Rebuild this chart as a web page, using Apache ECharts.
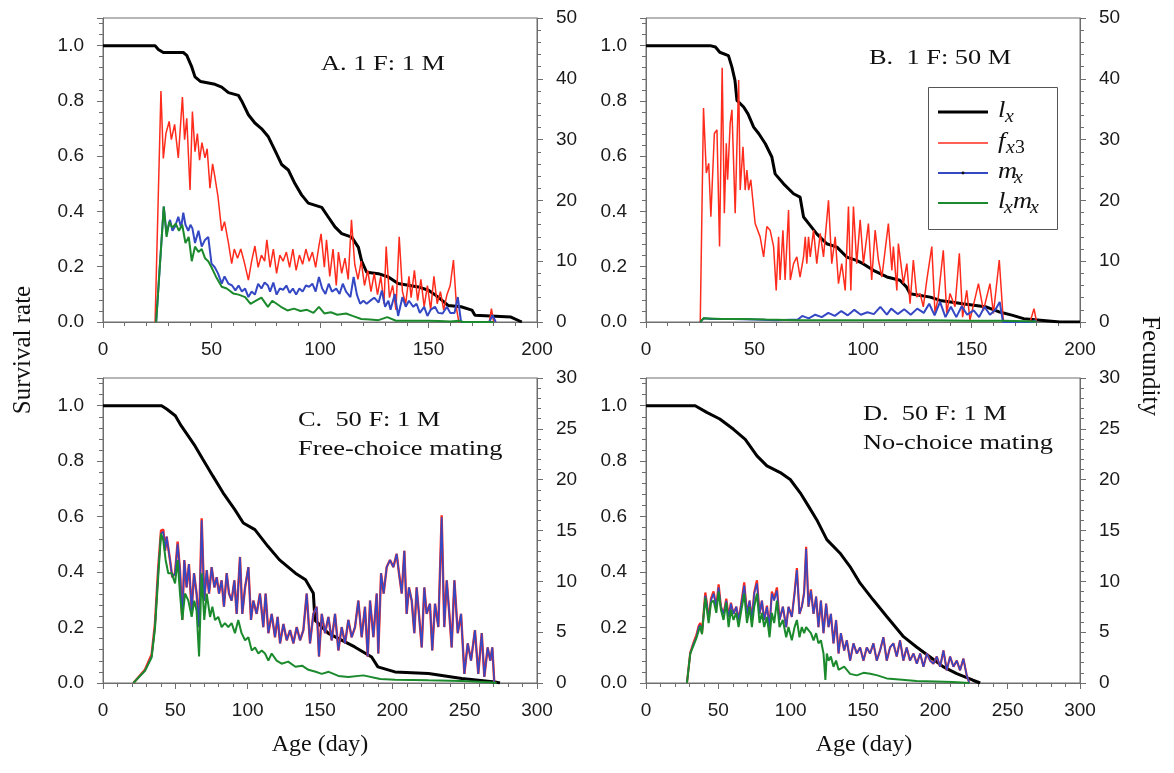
<!DOCTYPE html>
<html><head><meta charset="utf-8">
<script src="https://cdn.jsdelivr.net/npm/echarts@6/dist/echarts.min.js"></script>
<style>html,body{margin:0;padding:0;background:#fff}#c{width:1174px;height:773px}</style>
</head><body><div id="c"></div>
<script>
// ---------- tick labels / axis ranges ----------
const X_TICKS_AB = [0, 50, 100, 150, 200];
const X_TICKS_CD = [0, 50, 100, 150, 200, 250, 300];
const SURV_TICKS = [0, 0.2, 0.4, 0.6, 0.8, 1.0];
const SURV_MAX = 1.1;
const FEC_TICKS_AB = [0, 10, 20, 30, 40, 50];
const FEC_TICKS_CD = [0, 5, 10, 15, 20, 25, 30];
const PANEL_TITLES = [["A. 1 F: 1 M"], ["B.  1 F: 50 M"], ["C.  50 F: 1 M", "Free-choice mating"], ["D.  50 F: 1 M", "No-choice mating"]];

// ---------- Panel A: 1 F : 1 M  ([age (day), value]) ----------
const A_lx = [[0,1],[24,1],[25.5,0.986],[27.8,0.975],[37,0.975],[38.6,0.965],[40.9,0.923],[42.4,0.887],[45,0.87],[51.6,0.86],[54.7,0.85],[57.8,0.83],[62.4,0.82],[63.9,0.8],[67,0.75],[70,0.72],[73,0.7],[76.2,0.67],[79.3,0.62],[82.3,0.57],[85.4,0.55],[88.5,0.5],[91.5,0.46],[94.6,0.43],[100.8,0.415],[103.8,0.38],[106.9,0.344],[110,0.32],[114.6,0.307],[117.7,0.27],[119.2,0.22],[121.5,0.18],[126.9,0.175],[131.5,0.163],[136,0.139],[145.3,0.127],[150,0.115],[154.5,0.09],[159,0.06],[165,0.055],[170,0.043],[171.4,0.024],[188,0.018],[193,0]];
const A_fx3 = [[24,0],[26.7,38],[27.8,26.9],[29,31],[30.5,33],[31.5,30],[33,32.5],[34.7,27],[36.6,37],[37.6,30],[38.6,33.5],[40.1,21.7],[41.2,34.6],[42.4,28],[43.5,31],[44.5,26.6],[45.6,29.5],[47,27],[48,28.5],[49.3,22],[50.5,26],[51.5,24],[53,20.6],[54.7,15],[56,16.5],[57.8,13],[59.3,9.6],[60.5,12],[62,10.5],[63.5,12],[65,10],[67,6.9],[68.5,10],[70,12.5],[71.5,9],[73,11],[74.5,10],[75.5,13.5],[77,9],[78.5,12],[80,8],[81.5,11],[83,10],[84.5,11.5],[86,9],[87.5,12],[89,8.5],[90.5,11],[92,9.5],[93.5,12],[95,10],[96.5,11.5],[98,9],[99.5,12.5],[100.5,14.5],[102,9],[103,13.5],[104.5,7.5],[106,12],[107.5,6],[108.5,11.5],[110,8],[111.5,10.5],[113,7],[114.5,16.8],[116,9.5],[117.5,7],[119,10],[120.5,6],[122,8.5],[123.5,5],[125,8],[126.5,4.5],[128,7.5],[129.5,3],[130.5,12.4],[132,4],[133.5,6],[135,2],[136.5,14],[138,5],[139.5,3],[141,7.5],[142,4],[143.5,8.5],[145,3.5],[146.5,7],[148,2.5],[149.5,6],[151,2],[152.5,7.5],[154,3],[155.5,5],[157,2],[158.5,4.5],[160,6],[161.5,10.2],[163,2],[164,0],[178,0],[179,2.2],[180,0]];
const A_mx = [[24.5,0],[28,19],[29.3,14.5],[30.9,16.8],[32,15],[33.2,15.7],[34.7,17.3],[36,15.5],[37,18],[38,16],[39.3,15],[40.3,16],[41.2,15.4],[42.4,13],[44,15],[45.5,12.4],[47,13.5],[48.5,14],[50,9.6],[51.5,9],[53,8],[54.7,6.3],[56,7.5],[57.8,6.3],[59.5,6],[61,5.2],[62.5,6],[64,5],[65.5,5.5],[67,4.1],[68.5,5],[70,4.5],[71.5,6.3],[73,5.5],[74.5,6.5],[76,6],[77,5],[78.5,6.5],[80,4.5],[81.5,5.5],[83,5.3],[84.5,6],[86,4.8],[87.5,5.5],[89,4.5],[90.5,5.5],[92,5],[93.5,6],[95,5.8],[96.5,6.3],[98,5],[99.5,7.4],[101,5.5],[102.5,4.6],[104,6.3],[105.5,5],[107.5,5.5],[109,4.6],[110.5,6.3],[112,5],[114,4.1],[115.5,7.4],[117,4.5],[118.5,3],[120,3.5],[121.5,3],[123.5,3.6],[125,4],[127,3.2],[128.5,5.2],[130,2.5],[131.5,3.5],[132.5,2],[134.5,4.6],[136,1],[138,4.1],[139.5,2.5],[141,3.5],[143,2.5],[144.5,3],[146,1.5],[148,2.5],[149.5,1],[151,2],[153,2.5],[154.5,1.5],[156.5,1.4],[158.5,2.5],[160,1.5],[162,1.5],[163.5,4.1],[165,0],[178,0],[179.5,1.1],[181,0]];
const A_lxmx = [[24.5,0],[28,19],[29.3,14],[30.5,16.5],[32,15.5],[33.5,16.2],[35,15],[36.5,16],[38,13],[39.5,14],[40.9,10],[42.4,12.4],[44,11.5],[45.5,12],[47,10.5],[48.5,10],[50,9],[52,7.5],[54.7,5.8],[57,5.5],[60,4.7],[62.5,4.5],[65.5,4.1],[68,3],[70.5,3.5],[73,4],[76,2.5],[78,3.5],[80,3],[82,2.5],[85,1.9],[88,2.2],[91,1.8],[94,2],[97,1.5],[99.5,2.5],[102,1.4],[105,1.6],[108,1.2],[112,1.4],[115,1],[119,0.5],[123,0.4],[127,0.3],[131,0.8],[135,0.2],[140,0.2],[145,0.2],[150,0.2],[155,0.15],[160,0.1],[164,0.2],[166,0],[180,0]];

// ---------- Panel B: 1 F : 50 M ----------
const B_lx = [[0,1],[29.6,1],[32,0.995],[34,0.976],[38,0.964],[39.6,0.922],[41,0.874],[41.9,0.802],[45,0.778],[47,0.753],[49.6,0.705],[52,0.681],[55,0.645],[58,0.597],[59.5,0.536],[63.4,0.5],[68,0.464],[71,0.452],[72.6,0.38],[75,0.356],[78.7,0.319],[83.3,0.283],[88,0.271],[92.5,0.235],[97,0.223],[100,0.211],[104.8,0.187],[111,0.163],[117,0.151],[120,0.127],[121.7,0.102],[131,0.09],[135.5,0.078],[146,0.066],[157,0.054],[163,0.036],[169,0.024],[174,0.012],[190.8,0],[200,0]];
const B_fx3 = [[25,0],[26.5,35.2],[27.8,24.5],[28.9,26.1],[29.9,17.3],[31.5,31],[32.7,31.6],[33.9,12.4],[35.1,41.8],[36.1,17.9],[37,29.4],[37.6,23.4],[38.8,32.7],[39.6,34.9],[41.1,17.9],[42.7,39.8],[43.4,21.7],[44.7,28.8],[45.7,21.7],[46.5,25],[47.3,21.7],[48.3,23.4],[50.3,16.2],[52.6,14],[54.2,10.7],[55.7,15.7],[57.2,15.1],[58.8,12.4],[60,5.2],[61.1,14],[61.8,6.9],[63.1,15.1],[64.1,6.9],[65.7,18.4],[66.5,6.9],[68,9.6],[69.5,10.7],[71,7.4],[72.6,10.7],[73.4,14],[74.1,9.6],[74.9,14],[75.7,10.7],[77.2,15.1],[78.7,9.6],[80.3,14.6],[81.8,10.7],[84.1,20],[85.6,9.6],[87.2,14],[88.7,6.3],[90.2,9.6],[91.8,5.2],[93.3,19],[94.4,5.2],[95.6,19],[97.1,9.6],[98.7,16.8],[100.2,9.6],[102.5,16.2],[104,6.9],[105.6,15.1],[107.1,10.2],[108.7,7.4],[111.7,16.2],[113.3,8.5],[114,12.4],[115.6,5.2],[116.3,12.9],[118.6,6.3],[120.2,9.6],[121.7,3],[123.2,10.2],[124.8,4.1],[126.3,4.7],[127.8,2.5],[129.4,6.9],[131.7,12.4],[133.2,1.4],[134.7,4.1],[137,11.8],[138.6,1.4],[140.1,4.7],[142.4,2.5],[144.4,11.3],[145.9,0.8],[147.8,5.2],[149.3,0.3],[153.2,6.3],[155.5,1.9],[158.5,6.3],[160.1,1.4],[162.8,10.2],[164.7,0],[177,0],[178.8,2.2],[180,0]];
const B_mx = [[25,0],[26.5,0.6],[30,0.5],[40,0.5],[50,0.4],[60,0.3],[70,0.4],[72,1],[75,0.6],[78,1.2],[81,0.8],[84,1.5],[87,1],[90,1.8],[93,1.1],[96,2],[99,1.2],[102,1.6],[105,1.3],[108,2.5],[111,1.2],[113,2.2],[116,1.3],[119,2.1],[122,1.2],[125,2.2],[128,1.5],[130.5,3],[133,1.1],[135.5,3.3],[138,0.8],[140.5,2.5],[143,0.8],[145.5,2.6],[148,1.2],[151,1.9],[153.5,0.8],[156,2.5],[158.5,1.2],[161,2],[163,3.3],[164.5,0],[178,0],[179,0.3],[180,0]];
const B_lxmx = [[25,0],[26.5,0.6],[35,0.5],[45,0.5],[55,0.4],[70,0.3],[90,0.3],[110,0.3],[130,0.3],[150,0.2],[165,0.2],[180,0.1]];

// ---------- Panel C: 50 F : 1 M, free-choice ----------
const C_lx = [[0,1],[40.5,1],[44,0.988],[50,0.964],[54,0.928],[63.6,0.855],[69,0.807],[76,0.746],[83,0.686],[91,0.626],[97,0.577],[105,0.553],[114,0.493],[122,0.444],[133,0.396],[140,0.372],[145.4,0.324],[146.5,0.227],[155.8,0.179],[174,0.13],[185.7,0.094],[190,0.058],[201.8,0.04],[225,0.034],[248,0.016],[271,0.004],[274.4,0]];
const C_fx3 = [[21,0],[29,1.3],[33.6,2.8],[35.9,5.8],[38.2,11.4],[40.1,15],[41.7,15.1],[42.9,13],[44,14.4],[46.3,12.1],[47.9,10.4],[49.8,10.8],[51.6,13.9],[53.2,11.1],[54.8,6.2],[56.2,12.1],[57.8,9.4],[59.4,11.7],[61.3,7.1],[62.9,10.8],[64.7,8.8],[66.4,5.5],[68.2,16.2],[70,8.1],[71.7,11.1],[73.3,8.8],[75.1,11.4],[77,9.4],[78.6,10.4],[80.2,8.8],[82,10.1],[83.6,7.5],[85.5,10.8],[87.1,8.8],[88.9,8.1],[90.8,10.1],[92.4,6.8],[94.7,12.4],[96.3,6.8],[98.2,9.4],[100.5,11.4],[102.3,6.2],[103.9,8.1],[106.2,6.8],[108.5,8.8],[110.8,5.5],[112.4,8.8],[114.3,4.9],[116.6,6.8],[118.9,4.5],[120.7,6.5],[122.4,3.9],[124.7,5.8],[127,4.2],[129.3,5.2],[131.6,3.9],[133.9,5.5],[136.2,4.2],[138.5,5.2],[140.8,8.8],[143.1,3.9],[145.4,6.8],[147.7,7.5],[149.3,2.6],[151.2,6.8],[153.5,4.9],[155.8,6.5],[158.1,4.2],[160.4,6.8],[162.7,3.2],[165,5.5],[167.3,3.9],[169.6,6.2],[171.9,4.5],[174.2,5.5],[176.5,8.1],[178.8,4.5],[181.1,7.5],[183,2.6],[184.6,8.1],[186.9,4.5],[189.2,8.8],[190.3,2.9],[192.2,10.8],[194,8.8],[196.1,11.4],[198.4,12.1],[200.7,11.4],[203,12.7],[204.6,10.8],[206.5,8.8],[208.3,13],[209.9,6.8],[211.5,9.4],[213.4,8.1],[215.2,4.9],[216.8,9.4],[218.4,6.8],[220.3,3.5],[222.1,9.4],[223.7,6.8],[226,7.8],[227.6,3.2],[229.5,7.8],[231.8,5.5],[234.1,16.5],[235.9,5.5],[237.6,10.1],[239.4,6.8],[241,3.5],[242.9,10.1],[245.2,4.9],[247.5,6.8],[249.8,0.9],[252.1,3.9],[254.4,2.2],[257.1,5.2],[259.4,0.9],[261.8,4.9],[263.6,0.6],[265.9,3.5],[267.7,2.2],[269.1,3.5],[270.5,0]];
const C_mx = [[21,0],[29,1.2],[33.6,2.6],[35.9,5.5],[38.2,11.1],[40.1,14.7],[41.7,14.9],[42.9,13],[44,14.4],[46.3,12.1],[47.9,10.4],[49.8,10.8],[51.6,13.7],[53.2,11.1],[54.8,6.2],[56.2,12.1],[57.8,9.4],[59.4,11.7],[61.3,7.1],[62.9,10.8],[64.7,8.8],[66.4,5.5],[68.2,16],[70,8.1],[71.7,11.1],[73.3,8.8],[75.1,11.4],[77,9.4],[78.6,10.4],[80.2,8.8],[82,10.1],[83.6,7.5],[85.5,10.8],[87.1,8.8],[88.9,8.1],[90.8,10.1],[92.4,6.8],[94.7,12.4],[96.3,6.8],[98.2,9.4],[100.5,11.4],[102.3,6.2],[103.9,8.1],[106.2,6.8],[108.5,8.8],[110.8,5.5],[112.4,8.8],[114.3,4.9],[116.6,6.8],[118.9,4.5],[120.7,6.5],[122.4,3.9],[124.7,5.8],[127,4.2],[129.3,5.2],[131.6,3.9],[133.9,5.5],[136.2,4.2],[138.5,5.2],[140.8,8.8],[143.1,3.9],[145.4,6.8],[147.7,7.5],[149.3,2.6],[151.2,6.8],[153.5,4.9],[155.8,6.5],[158.1,4.2],[160.4,6.8],[162.7,3.2],[165,5.5],[167.3,3.9],[169.6,6.2],[171.9,4.5],[174.2,5.5],[176.5,8.1],[178.8,4.5],[181.1,7.5],[183,2.6],[184.6,8.1],[186.9,4.5],[189.2,8.8],[190.3,2.9],[192.2,10.8],[194,8.8],[196.1,11.4],[198.4,12.1],[200.7,11.4],[203,12.7],[204.6,10.8],[206.5,8.8],[208.3,13],[209.9,6.8],[211.5,9.4],[213.4,8.1],[215.2,4.9],[216.8,9.4],[218.4,6.8],[220.3,3.5],[222.1,9.4],[223.7,6.8],[226,7.8],[227.6,3.2],[229.5,7.8],[231.8,5.5],[234.1,16.3],[235.9,5.5],[237.6,10.1],[239.4,6.8],[241,3.5],[242.9,10.1],[245.2,4.9],[247.5,6.8],[249.8,0.9],[252.1,3.9],[254.4,2.2],[257.1,5.2],[259.4,0.9],[261.8,4.9],[263.6,0.6],[265.9,3.5],[267.7,2.2],[269.1,3.5],[270.5,0]];
const C_lxmx = [[21,0],[29,1.2],[33.6,2.5],[35.9,5.3],[38.2,10.5],[40.1,14.7],[41.7,14],[43.3,12.1],[45.1,10.8],[47.5,10.8],[49.8,9.8],[51.6,12.1],[53.2,8.8],[54.8,6.2],[56.7,8.8],[59,8.1],[61.3,6.5],[63.1,8.1],[64.7,7.1],[66.4,2.6],[68.2,10.8],[70,6.2],[71.7,8.8],[74,6.5],[75.6,7.5],[77.4,6.2],[79.7,6.5],[82,5.5],[84.3,5.9],[86.6,5.5],[88.9,5.9],[91.2,4.9],[93.5,6.2],[95.8,4.9],[98.2,4.2],[100.5,4.5],[102.8,3.2],[105.1,3.5],[107.4,2.9],[109.7,3.2],[112,2.9],[114.3,2.2],[116.6,2.9],[120,2.2],[123.5,1.9],[128,2.1],[133,1.6],[137.6,1.7],[142,1.3],[147,1.1],[151.2,0.9],[156,1.1],[162.7,0.7],[169.6,0.6],[180,0.75],[191.6,0.4],[202,0.33],[225,0.26],[248,0.2],[270,0.05],[272,0]];

// ---------- Panel D: 50 F : 1 M, no-choice ----------
const D_lx = [[0,1],[34,1],[42,0.976],[51,0.952],[60.5,0.915],[68.6,0.879],[76.7,0.819],[83.6,0.783],[92.8,0.759],[99.7,0.734],[106.6,0.686],[112.3,0.638],[118,0.589],[125,0.517],[134,0.469],[141,0.42],[148,0.36],[157,0.3],[166.4,0.24],[178,0.167],[187,0.13],[196.4,0.094],[205.6,0.058],[214.8,0.034],[226,0.01],[231,0]];
const D_fx3 = [[28.3,0],[30.6,3],[32.9,4],[34.8,4.7],[36.4,5.6],[37.5,5.9],[38.7,4.9],[41,8.9],[42.1,7.8],[43.3,6.2],[44.9,8.3],[46.7,9],[48.6,7.5],[50.2,9.7],[51.8,7.5],[53.6,6.8],[55.5,8.3],[57.1,6.5],[58.7,7.9],[60.5,6.8],[62.4,7.5],[64,6.2],[65.6,7.6],[67.9,9.9],[69.8,6.8],[71.6,8.1],[73.2,6.2],[74.8,8.9],[76.7,10.1],[78.5,6.8],[80.1,8.1],[81.7,6.2],[83.6,7.6],[85.4,5.5],[87,9],[88.6,8.3],[90.5,9.4],[92.3,6.2],[94.6,7.5],[96.9,5.5],[98.5,7.5],[100.8,6.5],[102.7,8.9],[104.3,11.3],[106.1,6.8],[107.7,7.5],[109.3,8.9],[110.7,13.4],[112.3,7.5],[114,9.2],[115.8,6.8],[117.6,8.5],[119.2,5.5],[120.9,8.1],[122.7,4.9],[124.5,7.8],[126.2,5.5],[127.8,6.8],[129.6,3.9],[131.4,6.2],[133.1,2.9],[134.7,4.9],[137,3.2],[138.8,4.2],[141.1,2.2],[143.4,3.9],[145.7,2.9],[148,3.5],[150.3,2.2],[152.6,3.5],[154.9,2.9],[157.2,3.9],[159.5,2.2],[161.8,3.2],[164.1,4.5],[166.4,2.2],[168.7,3.5],[171,3.9],[173.3,2.6],[175.6,4.2],[177.9,2.2],[180.2,3.5],[182.5,2.2],[184.9,2.9],[187.2,1.9],[189.5,2.9],[191.8,1.6],[194.1,2.9],[196.4,2.2],[198.7,1.9],[201,2.6],[203.3,1.6],[205.6,3.2],[207.9,1.25],[210.2,2.6],[212.5,1.6],[214.8,2.2],[217.1,1.25],[219.4,2.4],[221.7,0.75],[223.5,0]];
const D_mx = [[28.3,0],[30.6,2.9],[32.9,3.9],[34.8,4.5],[36.4,5.5],[37.5,5.7],[38.7,4.9],[41,8.6],[42.1,7.8],[43.3,6.2],[44.9,8.1],[46.7,8.8],[48.6,7.5],[50.2,9.4],[51.8,7.5],[53.6,6.8],[55.5,8.1],[57.1,6.5],[58.7,7.8],[60.5,6.8],[62.4,7.5],[64,6.2],[65.6,7.5],[67.9,9.6],[69.8,6.8],[71.6,8.1],[73.2,6.2],[74.8,8.8],[76.7,9.8],[78.5,6.8],[80.1,8.1],[81.7,6.2],[83.6,7.5],[85.4,5.5],[87,8.8],[88.6,8.1],[90.5,9.1],[92.3,6.2],[94.6,7.5],[96.9,5.5],[98.5,7.5],[100.8,6.5],[102.7,8.8],[104.3,11.1],[106.1,6.8],[107.7,7.5],[109.3,8.8],[110.7,13.2],[112.3,7.5],[114,9.1],[115.8,6.8],[117.6,8.5],[119.2,5.5],[120.9,8.1],[122.7,4.9],[124.5,7.8],[126.2,5.5],[127.8,6.8],[129.6,3.9],[131.4,6.2],[133.1,2.9],[134.7,4.9],[137,3.2],[138.8,4.2],[141.1,2.2],[143.4,3.9],[145.7,2.9],[148,3.5],[150.3,2.2],[152.6,3.5],[154.9,2.9],[157.2,3.9],[159.5,2.2],[161.8,3.2],[164.1,4.5],[166.4,2.2],[168.7,3.5],[171,3.9],[173.3,2.6],[175.6,4.2],[177.9,2.2],[180.2,3.5],[182.5,2.2],[184.9,2.9],[187.2,1.9],[189.5,2.9],[191.8,1.6],[194.1,2.9],[196.4,2.2],[198.7,1.9],[201,2.6],[203.3,1.6],[205.6,3.2],[207.9,1.25],[210.2,2.6],[212.5,1.6],[214.8,2.2],[217.1,1.25],[219.4,2.4],[221.7,0.75],[223.5,0]];
const D_lxmx = [[28.3,0],[30.6,2.9],[34.8,4.4],[37.5,5.6],[38.7,4.8],[41,8.4],[43.3,5.9],[44.9,7.9],[46.7,8.1],[48.6,6.9],[50.2,9],[51.8,7.2],[53.6,6.2],[55.5,7.9],[57.1,5.5],[58.7,7.2],[60.5,6.2],[62.4,6.9],[64,5.5],[65.6,6.9],[67.9,8.8],[69.8,5.9],[71.6,7.5],[73.2,5.5],[74.8,7.5],[76.7,8.8],[78.5,5.9],[80.1,6.9],[81.7,5.5],[83.6,6.5],[85.4,4.5],[87,6.9],[88.6,5.9],[90.5,8.1],[92.3,5.5],[94.6,6.2],[96.9,4.5],[98.5,5.5],[100.8,4.2],[102.7,5.5],[104.3,6.2],[106.1,4.5],[107.7,5.5],[109.3,4.9],[110.7,5.5],[112.3,5.2],[114,4.9],[115.8,4.2],[117.6,4.9],[119.2,3.9],[120.9,4.2],[122.7,2.9],[124,0.3],[125,2.9],[126.2,2.2],[127.8,2.6],[129.6,1.6],[131.4,2.2],[133.1,1.3],[137,1.6],[141.1,0.9],[145.7,0.75],[150.3,1],[155,0.9],[160,0.75],[166.4,0.45],[175,0.35],[187,0.2],[200,0.15],[212,0.1],[223.5,0]];

// ---------- build chart ----------
const COL = {lx:'#000000', fx:'#ff2b1c', mx:'#3548c4', lm:'#1b8a2c'};
const AXC = '#6e6e6e';
const panels = [
  {lx:A_lx, fx:A_fx3, mx:A_mx, lm:A_lxmx, xt:X_TICKS_AB, ft:FEC_TICKS_AB, g:{left:103, top:18, width:434, height:304}, fxW:1.5, mxW:2},
  {lx:B_lx, fx:B_fx3, mx:B_mx, lm:B_lxmx, xt:X_TICKS_AB, ft:FEC_TICKS_AB, g:{left:646, top:18, width:434, height:304}, fxW:1.5, mxW:2},
  {lx:C_lx, fx:C_fx3, mx:C_mx, lm:C_lxmx, xt:X_TICKS_CD, ft:FEC_TICKS_CD, g:{left:103, top:378, width:434, height:305}, fxW:2.4, mxW:1.6},
  {lx:D_lx, fx:D_fx3, mx:D_mx, lm:D_lxmx, xt:X_TICKS_CD, ft:FEC_TICKS_CD, g:{left:646, top:378, width:434, height:305}, fxW:2.2, mxW:1.6}
];
const tickFont = {color:'#1a1a1a', fontSize:19, fontFamily:'Liberation Sans'};
function axisBase(){
  return {
    axisLine:{show:true, onZero:false, lineStyle:{color:AXC, width:1}},
    axisTick:{show:true, inside:false, length:6, lineStyle:{color:AXC, width:1}},
    minorTick:{show:true, splitNumber:5, length:4, lineStyle:{color:AXC, width:1}},
    splitLine:{show:false}, minorSplitLine:{show:false}
  };
}
const grid = [], xAxis = [], yAxis = [], series = [];
panels.forEach((p, i) => {
  grid.push(Object.assign({show:true, borderColor:AXC, borderWidth:1, backgroundColor:'transparent'}, p.g));
  xAxis.push(Object.assign(axisBase(), {type:'value', gridIndex:i, min:p.xt[0], max:p.xt[p.xt.length-1], interval:p.xt[1]-p.xt[0],
    axisLabel:Object.assign({margin:18}, tickFont)}));
  yAxis.push(Object.assign(axisBase(), {type:'value', gridIndex:i, position:'left', min:SURV_TICKS[0], max:SURV_MAX, interval:SURV_TICKS[1]-SURV_TICKS[0],
    axisLabel:Object.assign({margin:19, formatter:v => v > SURV_TICKS[SURV_TICKS.length-1] + 1e-6 ? '' : v.toFixed(1)}, tickFont)}));
  yAxis.push(Object.assign(axisBase(), {type:'value', gridIndex:i, position:'right', min:p.ft[0], max:p.ft[p.ft.length-1], interval:p.ft[1]-p.ft[0],
    axisLabel:Object.assign({margin:19}, tickFont)}));
  const mk = (data, yi, color, w, z) => ({type:'line', xAxisIndex:i, yAxisIndex:yi, data, showSymbol:false, symbol:'none', z,
    lineStyle:{color, width:w}, silent:true, animation:false});
  series.push(mk(p.lx, 2*i, COL.lx, 3, 2));
  series.push(mk(p.fx, 2*i+1, COL.fx, p.fxW, 3));
  series.push(mk(p.mx, 2*i+1, COL.mx, p.mxW, 4));
  series.push(mk(p.lm, 2*i+1, COL.lm, 2, 5));
});

// text helpers
const SERIF = 'Liberation Serif';
function T(x, y, text, size, extra){
  extra = extra || {};
  return Object.assign({type:'text', x, y, z:100, silent:true,
    style:{text, fontSize:size, fontFamily:SERIF, fontStyle:extra.italic ? 'italic' : 'normal', fill:'#111',
      align:extra.align || 'left', verticalAlign:'middle'}}, extra.el || {});
}
const SX = 1.2;
const graphic = [];
// panel titles
const titlePos = [[321, [64]], [869, [58]], [298, [420, 449]], [863, [414, 443]]];
PANEL_TITLES.forEach((lines, i) => {
  lines.forEach((s, j) => graphic.push(T(titlePos[i][0], titlePos[i][1][j], s, 22, {el:{scaleX:SX}})));
});
// axis titles
graphic.push(T(23, 350, 'Survival rate', 25, {align:'center', el:{rotation:Math.PI/2}}));
graphic.push(T(1150, 366, 'Fecundity', 25, {align:'center', el:{rotation:-Math.PI/2}}));
graphic.push(T(320, 745, 'Age (day)', 24, {align:'center'}));
graphic.push(T(864, 745, 'Age (day)', 24, {align:'center'}));
// legend (panel B)
graphic.push({type:'rect', z:90, silent:true, shape:{x:928.5, y:87.5, width:129, height:142}, style:{fill:'#fff', stroke:'#555', lineWidth:1}});
const legRows = [
  {y:112, color:COL.lx, w:3, parts:[['l',0,0],['x',7,6]]},
  {y:143, color:COL.fx, w:1.5, parts:[['f',0,0],['x',8,6],['3',17,6]]},
  {y:173, color:COL.mx, w:2, parts:[['m',0,0],['x',16,6]]},
  {y:203, color:COL.lm, w:2, parts:[['l',0,0],['x',6,6],['m',15,0],['x',32,6]]}
];
legRows.forEach(r => {
  graphic.push({type:'line', z:95, silent:true, shape:{x1:938, y1:r.y, x2:988, y2:r.y}, style:{stroke:r.color, lineWidth:r.w}});
  r.parts.forEach(pt => {
    const sub = pt[2] > 0;
    graphic.push(T(998 + pt[1], r.y - 1 + pt[2], pt[0], sub ? 18 : 24, {italic: pt[0] !== '3', el:{scaleX:1.1}}));
  });
});
graphic.push({type:'circle', z:96, silent:true, shape:{cx:963, cy:173, r:1.4}, style:{fill:'#111'}});

const chart = echarts.init(document.getElementById('c'), null, {renderer:'canvas'});
chart.setOption({animation:false, backgroundColor:'#ffffff', grid, xAxis, yAxis, series, graphic});
</script></body></html>
